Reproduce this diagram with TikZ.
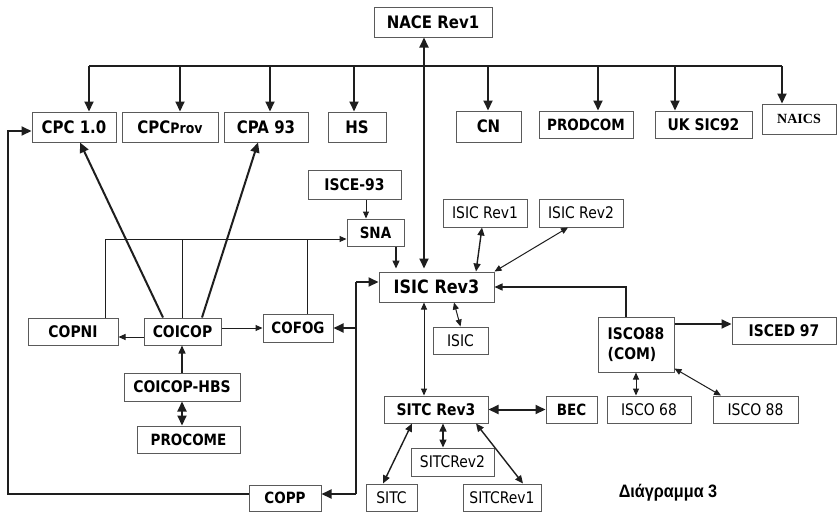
\documentclass[tikz,border=0pt]{standalone}
\usepackage{fontspec}
\setmainfont[FakeStretch=0.87]{DejaVu Sans}
\newfontfamily\serifb{Liberation Serif}
\newfontfamily\arialf[FakeStretch=0.9]{Liberation Sans}
\usetikzlibrary{arrows.meta}
\definecolor{ln}{HTML}{1E1E1E}
\definecolor{bd}{HTML}{5A5A5A}
\tikzset{
  bx/.style 2 args={draw=bd, line width=1pt, inner sep=0pt, minimum width=#1pt, minimum height=#2pt, fill=white, text=black, font=\fontsize{16}{19}\selectfont\bfseries},
  rx/.style 2 args={bx={#1}{#2}, font=\fontsize{16}{19}\selectfont},
  fa/.style={font=\fontsize{17.2}{20}\selectfont\bfseries},
  fb/.style={font=\fontsize{15.5}{18}\selectfont\bfseries},
  BigT/.tip={Triangle[length=10pt,width=9pt]},
  MedT/.tip={Triangle[length=8pt,width=7pt]},
  SmT/.tip={Triangle[length=7pt,width=6pt]},
  thk/.style={draw=ln, line width=2pt},
  med/.style={draw=ln, line width=1.4pt},
  thn/.style={draw=ln, line width=1pt},
  bigto/.style={thk, -BigT},
  bigboth/.style={thk, BigT-BigT},
  medto/.style={med, -MedT},
  medboth/.style={med, MedT-MedT},
  thnto/.style={thn, -SmT},
  thnboth/.style={thn, SmT-SmT}
}
\begin{document}
\begin{tikzpicture}[x=1pt,y=-1pt]
\useasboundingbox[fill=white] (0,0) rectangle (837,512);

% ---- boxes
\node[bx={118}{30}, fa] (nace) at (433,22) {NACE Rev1};
\node[bx={84}{30}, fa] (cpc10) at (74,127) {CPC 1.0};
\node[bx={96}{30}, fa] (cpcprov) at (170,127) {CPC{\fontsize{14.4}{17}\selectfont Prov}};
\node[bx={84}{30}, fa] (cpa93) at (266,127) {CPA 93};
\node[bx={58}{30}, fa] (hs) at (357,127) {HS};
\node[bx={65}{31}, fa] (cn) at (488.5,126.5) {CN};
\node[bx={94}{27}, fb] (prodcom) at (586,124.5) {PRODCOM};
\node[bx={97}{27}] (uksic) at (703.5,124.5) {UK SIC92};
\node[bx={74}{30}, font=\serifb\fontsize{14}{17}\selectfont\bfseries] (naics) at (799,119) {NAICS};

\node[bx={93}{29}] (isce) at (354.5,184.5) {ISCE-93};
\node[bx={57}{27}, fb] (sna) at (375.5,232.5) {SNA};
\node[rx={84}{28}] (isicr1) at (485,213) {ISIC Rev1};
\node[rx={84}{28}] (isicr2) at (581,213) {ISIC Rev2};
\node[bx={115}{30}, font=\fontsize{18.4}{21}\selectfont\bfseries] (isicr3) at (436.5,287) {ISIC Rev3};
\node[bx={90}{27}] (copni) at (73,331.5) {COPNI};
\node[bx={77}{27}] (coicop) at (182.5,331.5) {COICOP};
\node[bx={70}{28}, fb] (cofog) at (298,328) {COFOG};
\node[rx={55}{27}] (isic) at (460.5,340.5) {ISIC};
\node[bx={76}{55}, align=left, font=\fontsize{16}{20}\selectfont\bfseries] (iscocom) at (636,344.5) {ISCO88\\(COM)};
\node[bx={104}{27}] (isced) at (784,330.5) {ISCED 97};
\node[bx={116}{28}] (hbs) at (182,387) {COICOP-HBS};
\node[bx={103}{27}, fb] (procome) at (188.5,439.5) {PROCOME};
\node[bx={104}{27}] (sitcr3) at (436,409.5) {SITC Rev3};
\node[bx={51}{27}, fb] (bec) at (571.5,409.5) {BEC};
\node[rx={84}{27}] (isco68) at (649,409.5) {ISCO 68};
\node[rx={85}{27}] (isco88) at (755.5,409.5) {ISCO 88};
\node[rx={83}{28}] (sitcr2) at (452.5,462) {SITCRev2};
\node[rx={51}{27}] (sitc) at (391.5,497.5) {SITC};
\node[rx={78}{27}] (sitcr1) at (502,497.5) {SITCRev1};
\node[bx={72}{26}, fb] (copp) at (285,498) {COPP};
\node[font=\arialf\fontsize{18}{21}\selectfont\bfseries, inner sep=0pt] (cap) at (668,493) {Διάγραμμα 3};

% ---- coordinates
\coordinate (b1) at (89,66);
\coordinate (b2) at (180,66);
\coordinate (b3) at (270,66);
\coordinate (b4) at (354,66);
\coordinate (b5) at (488,66);
\coordinate (b6) at (598,66);
\coordinate (b7) at (675,66);
\coordinate (b8) at (782,66);
\coordinate (nx) at (424,0);
\coordinate (sb) at (105,239);
\coordinate (cf) at (307,239);
\coordinate (tt) at (356,282);
\coordinate (tb) at (356,494);
\coordinate (l1) at (8,494);
\coordinate (l2) at (8,131);

% ---- top bus from NACE
\draw[thk] (b1) -- (b8);
\draw[bigto] (b1) -- (b1 |- cpc10.north);
\draw[bigto] (b2) -- (b2 |- cpcprov.north);
\draw[bigto] (b3) -- (b3 |- cpa93.north);
\draw[bigto] (b4) -- (b4 |- hs.north);
\draw[bigto] (b5) -- (b5 |- cn.north);
\draw[bigto] (b6) -- (b6 |- prodcom.north);
\draw[bigto] (b7) -- (b7 |- uksic.north);
\draw[bigto] (b8) -- (b8 |- naics.north);
\draw[bigboth, shorten >=3pt] (nace.south -| nx) -- (isicr3.north -| nx);

% ---- COICOP diagonals
\draw[bigto] ([xshift=-19.5]coicop.north) -- ([xshift=6]cpc10.south);
\draw[bigto] ([xshift=19.5]coicop.north) -- ([xshift=-8]cpa93.south);

% ---- SNA bus
\draw[thnto] (copni.north -| sb) -- (sb) -- (sna.west |- sb);
\draw[thn] (coicop.north) -- (coicop.north |- sb);
\draw[thn] (cf |- cofog.north) -- (cf);
\draw[thnto] ([xshift=11.5]isce.south) -- ([xshift=-9.5]sna.north);
\draw[medto, shorten >=3pt] ([xshift=20.5]sna.south) -- ([xshift=-40.5]isicr3.north);

% ---- ISIC family
\draw[medboth] ([xshift=-3]isicr1.south) -- ([xshift=39.5]isicr3.north);
\draw[thnboth] ([xshift=-13]isicr2.south) -- (isicr3.north east);
\draw[medto] ([xshift=-10]iscocom.north) |- (isicr3.east);
\draw[bigto] ([yshift=20.5]iscocom.east) -- ([yshift=6.5]isced.west);
\draw[thnboth] ([xshift=17.5]isicr3.south) -- (isic.north);
\draw[thnboth] (isicr3.south -| nx) -- (sitcr3.north -| nx);

% ---- SITC family
\draw[bigboth] (sitcr3.east) -- (bec.west);
\draw[medboth] ([xshift=7]sitcr3.south) -- ([xshift=-9.5]sitcr2.north);
\draw[medboth] ([xshift=-8.5]sitc.north) -- ([xshift=-24]sitcr3.south);
\draw[medboth] ([xshift=21]sitcr1.north) -- ([xshift=40]sitcr3.south);

% ---- ISCO family
\draw[thnboth] (iscocom.south) -- (iscocom.south |- isco68.north);
\draw[thnboth] ([yshift=4]iscocom.south east) -- ([xshift=-34.5]isco88.north);

% ---- COICOP neighbours
\draw[thnto] ([yshift=-5.5]coicop.west) -- ([yshift=-5.5]copni.east);
\draw[thnto] ([yshift=3.5]coicop.east) -- (cofog.west);
\draw[medto] (hbs.north) -- (hbs.north |- coicop.south);
\draw[bigboth] (hbs.south) -- (hbs.south |- procome.north);

% ---- trunk and loop
\draw[thk] (tt) -- (tb);
\draw[bigto] (tt) -- ([yshift=5]isicr3.west);
\draw[bigto] (cofog.east -| tt) -- (cofog.east);
\draw[bigto] (tb) -- (copp.east |- tb);
\draw[bigto] (copp.west |- tb) -- (l1) -- (l2) -- (cpc10.west |- l2);
\end{tikzpicture}
\end{document}
